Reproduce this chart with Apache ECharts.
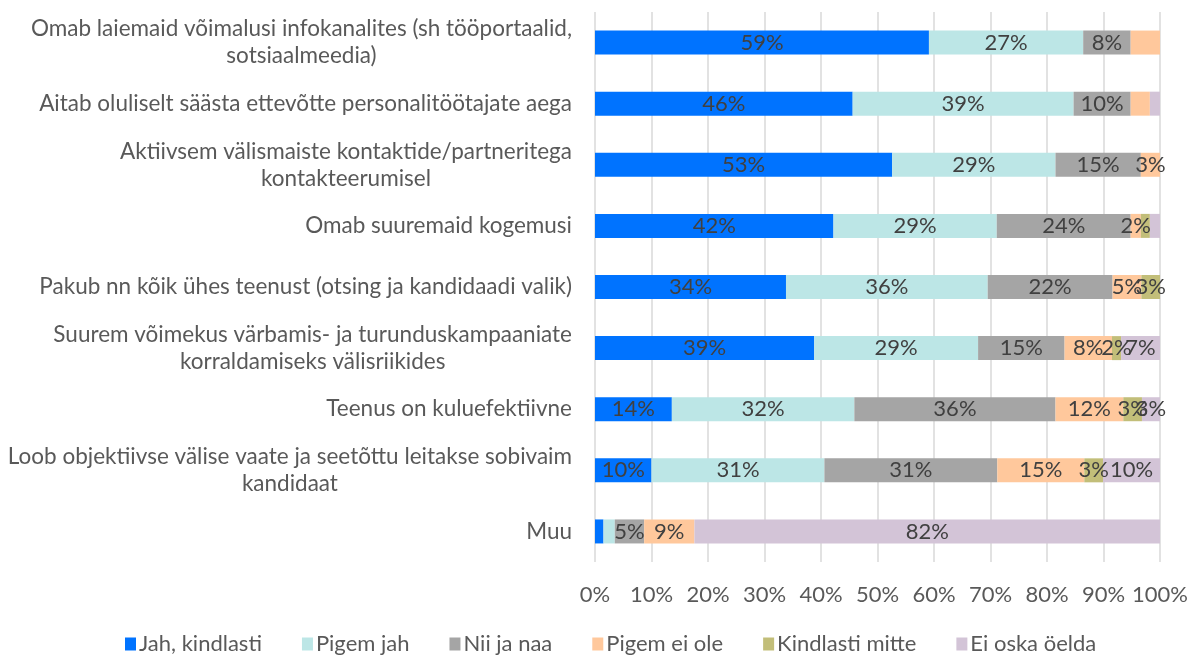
<!doctype html>
<html lang="et">
    <head>
        <meta charset="UTF-8">
        <title>Värbamisteenuse eelised</title>
        <style>
            html, body { margin: 0; padding: 0; background: #fff; }
            #main { width: 1191px; height: 657px; }
        </style>
    </head>
    <body>
        <div id="main"></div>
        <script src="https://cdn.jsdelivr.net/npm/echarts@6/dist/echarts.min.js"></script>
        <script type="text/javascript">
        // kategooriad (ülevalt alla)
        var categories = [
            'Omab laiemaid võimalusi infokanalites (sh tööportaalid,\nsotsiaalmeedia)',
            'Aitab oluliselt säästa ettevõtte personalitöötajate aega',
            'Aktiivsem välismaiste kontaktide/partneritega\nkontakteerumisel',
            'Omab suuremaid kogemusi',
            'Pakub nn kõik ühes teenust (otsing ja kandidaadi valik)',
            'Suurem võimekus värbamis- ja turunduskampaaniate\nkorraldamiseks välisriikides',
            'Teenus on kuluefektiivne',
            'Loob objektiivse välise vaate ja seetõttu leitakse sobivaim\nkandidaat',
            'Muu'
        ];

        var seriesNames = ['Jah, kindlasti', 'Pigem jah', 'Nii ja naa', 'Pigem ei ole', 'Kindlasti mitte', 'Ei oska öelda'];

        // osakaalud protsentides
        var jahKindlasti   = [59.1, 45.6, 52.6, 42.2, 33.8, 38.8, 13.6, 10.0, 1.5];
        var pigemJah       = [27.3, 39.1, 28.9, 28.9, 35.7, 29.0, 32.3, 30.6, 2.0];
        var niiJaNaa       = [8.4, 10.1, 15.1, 23.7, 22.1, 15.3, 35.6, 30.6, 5.2];
        var pigemEiOle     = [5.2, 3.4, 3.4, 1.8, 5.1, 8.4, 12.0, 15.4, 8.9];
        var kindlastiMitte = [0, 0, 0, 1.6, 3.3, 1.6, 3.3, 3.3, 0];
        var eiOskaOelda    = [0, 1.8, 0, 1.8, 0, 6.9, 3.2, 10.1, 82.4];

        var xTicks = [0, 10, 20, 30, 40, 50, 60, 70, 80, 90, 100];

        // sildid, mida originaalis ei näidata: [rida, seeria]
        var hiddenLabels = [[0, 3], [1, 3], [1, 5], [3, 4], [3, 5], [8, 0], [8, 1]];

        var colors = ['#0073ff', '#bce6e6', '#a5a5a5', '#ffc89c', '#c2be79', '#d3c4d7'];
        var FONT = 'Lato';

        var values = [jahKindlasti, pigemJah, niiJaNaa, pigemEiOle, kindlastiMitte, eiOskaOelda];

        function isHidden(row, s) {
            for (var i = 0; i < hiddenLabels.length; i++) {
                if (hiddenLabels[i][0] === row && hiddenLabels[i][1] === s) return true;
            }
            return false;
        }

        var series = seriesNames.map(function (name, s) {
            return {
                name: name,
                type: 'bar',
                stack: 'kokku',
                barWidth: 24,
                itemStyle: { color: colors[s] },
                label: {
                    show: true,
                    position: 'inside',
                    color: '#404040',
                    fontFamily: FONT,
                    fontSize: 22,
                    formatter: function (p) {
                        if (!p.value || isHidden(p.dataIndex, s)) return '';
                        return Math.round(p.value) + '%';
                    }
                },
                data: values[s]
            };
        });

        var myChart = echarts.init(document.getElementById('main'));

        var option = {
            animation: false,
            color: colors,
            grid: {
                left: 595,
                right: 28,
                top: 12,
                bottom: 95
            },
            legend: {
                data: seriesNames,
                top: 628,
                left: 120,
                itemWidth: 11,
                itemHeight: 13,
                itemGap: 40,
                icon: 'rect',
                textStyle: {
                    color: '#595959',
                    fontFamily: FONT,
                    fontSize: 22,
                    padding: [0, 0, 0, -2]
                }
            },
            xAxis: {
                type: 'value',
                min: xTicks[0],
                max: xTicks[xTicks.length - 1],
                interval: xTicks[1] - xTicks[0],
                axisLine: { show: false },
                axisTick: { show: false },
                splitLine: { lineStyle: { color: '#d9d9d9', width: 1.5 } },
                axisLabel: {
                    color: '#595959',
                    fontFamily: FONT,
                    fontSize: 22,
                    margin: 22,
                    formatter: '{value}%'
                }
            },
            yAxis: {
                type: 'category',
                inverse: true,
                data: categories,
                axisLine: { show: false },
                axisTick: { show: false },
                axisLabel: {
                    color: '#595959',
                    fontFamily: FONT,
                    fontSize: 22.5,
                    margin: 23,
                    lineHeight: 27,
                    formatter: function (v) {
                        return v.split('\n').map(function (l) { return '{c|' + l + '}'; }).join('\n');
                    },
                    rich: {
                        c: {
                            align: 'center',
                            color: '#595959',
                            fontFamily: FONT,
                            fontSize: 22.5,
                            lineHeight: 27
                        }
                    }
                }
            },
            series: series
        };

        myChart.setOption(option);
    </script>
    </body>
</html>
